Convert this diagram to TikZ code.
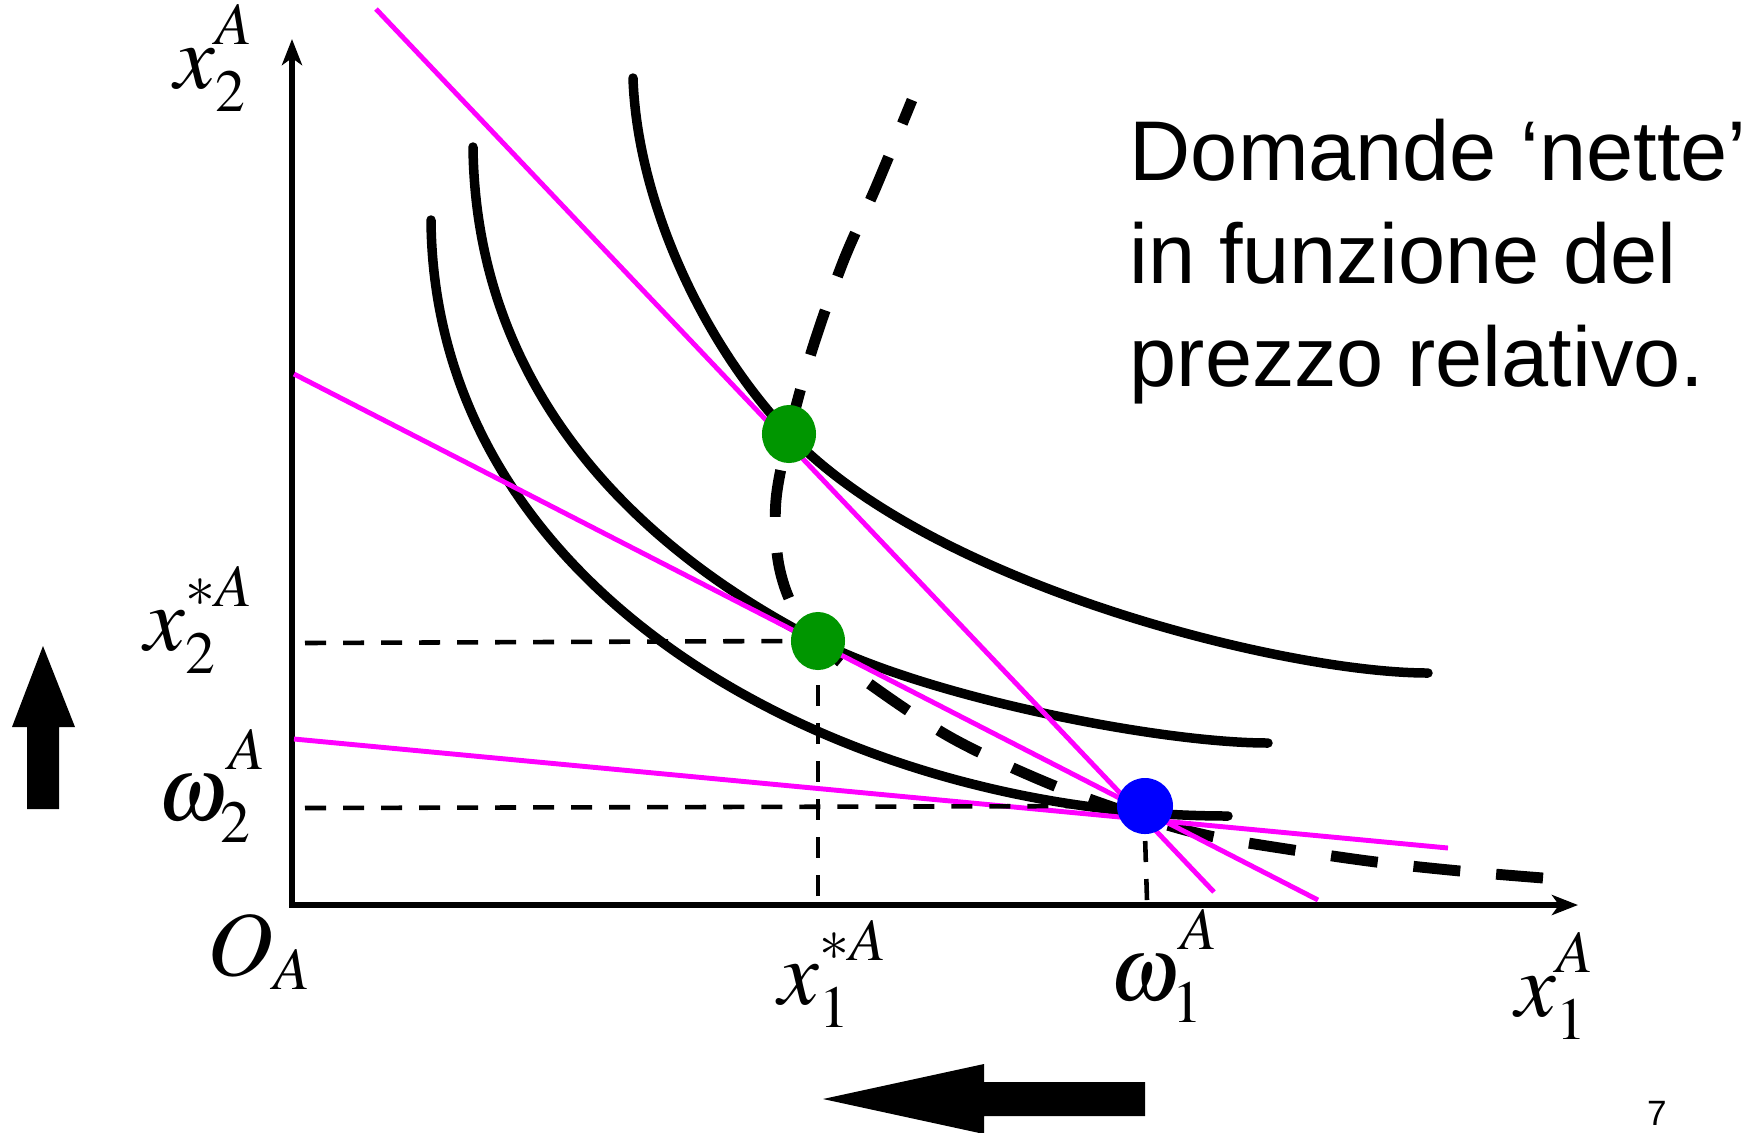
\documentclass[tikz,border=0pt]{standalone}
\usepackage{mathptmx}
\usepackage[no-math]{fontspec}
\setmainfont{Liberation Serif}
\newfontfamily\arialfont{Liberation Sans}
\definecolor{magline}{RGB}{255,0,255}
\definecolor{eqgreen}{RGB}{0,150,0}
\definecolor{endblue}{RGB}{0,0,255}
\usetikzlibrary{arrows.meta,positioning,shapes.geometric}
\DeclareMathSizes{26}{26}{17}{12}
\newcommand{\hisup}[2][3pt]{\raisebox{#1}{$\scriptstyle #2$}}

\begin{document}
\begin{tikzpicture}[x=0.01cm,y=-0.01cm,
  axis/.style={line width=1.6pt,line join=miter,
    {Stealth[length=0.26cm,width=0.2cm,inset=0.07cm]}-{Stealth[length=0.26cm,width=0.2cm,inset=0.07cm]}},
  indiff/.style={line width=2.7pt,line cap=round},
  offer/.style={line width=3.1pt,dash pattern=on 0.47cm off 0.36cm},
  budget/.style={magline,line width=1.4pt},
  guide/.style={line width=1.3pt,dash pattern=on 0.21cm off 0.17cm},
  lbl/.style={font=\fontsize{26}{26}\selectfont,inner sep=0pt},
  eqdot/.style={ellipse,fill=eqgreen,minimum width=0.54cm,minimum height=0.58cm,inner sep=0pt},
  enddot/.style={circle,fill=endblue,minimum size=0.56cm,inner sep=0pt}
]
  \useasboundingbox (0,0) rectangle (1762,1132);
  % axes
  \coordinate (O) at (292,905);
  \coordinate (ytop) at (292,39);
  \coordinate (xend) at (1578,905);
  \draw[axis] (ytop) -- (O) -- (xend);
  % indifference curves
  \draw[indiff] (431,220) .. controls (434,600) and (848,816) .. (1228,816);
  \draw[indiff] (473,147) .. controls (476,407) and (658,559) .. (818,641)
    .. controls (927,697) and (1159,743) .. (1268,743);
  \draw[indiff] (633,78) .. controls (637,198) and (700,340) .. (789,434)
    .. controls (932,585) and (1285,673) .. (1428,673);
  % offer curve
  \draw[offer] plot[smooth,tension=0.55] coordinates {(1543,878) (1460,871) (1376,862)
    (1293,850) (1210,836) (1145,818) (1050,784) (950,737) (860,677) (818,641)
    (792,605) (778,560) (776,500) (789,434) (812,350) (843,262) (876,187) (912,100)};
  % budget lines through the endowment
  \coordinate (bA1) at (376,9);    \coordinate (bA2) at (1214,892);
  \coordinate (bB1) at (294,374);  \coordinate (bB2) at (1318,900);
  \coordinate (bC1) at (294,739);  \coordinate (bC2) at (1448,848);
  \draw[budget] (bA1) -- (bA2);
  \draw[budget] (bB1) -- (bB2);
  \draw[budget] (bC1) -- (bC2);
  % points
  \node[eqdot] (G1) at (789,434) {};
  \node[eqdot] (G2) at (818,641) {};
  \node[enddot] (W) at (1145,806) {};
  % guides
  \coordinate (g2left) at (305,643);
  \coordinate (g2down) at (818,896);
  \coordinate (wleft) at (305,808);
  \coordinate (wdown) at (1147,900);
  \draw[guide] (g2left) -- (G2.west);
  \draw[guide] (g2down) -- (G2.south);
  \draw[guide] (wleft) -- (W.west);
  \draw[guide] (wdown) -- (W.south);
  % labels
  \node[lbl] (x2A) at (214,58) {$x_2^{\hisup{A}}$};
  \node[lbl] (x2sA) at (199,620) {$x_2^{\hisup{*A}}$};
  \node[lbl] (w2A) at (212,786) {$\omega_2^{\hisup[5pt]{A}}$};
  \node[lbl] (OA) at (260,952) {$O_A$};
  \node[lbl] (x1sA) at (833,974) {$x_1^{\hisup{*A}}$};
  \node[lbl] (w1A) at (1164,966) {$\omega_1^{\hisup[5pt]{A}}$};
  \node[lbl] (x1A) at (1555,986) {$x_1^{\hisup{A}}$};
  % caption text
  \node[font=\arialfont\fontsize{24.1}{29.3}\selectfont,align=left,anchor=north west,inner sep=0pt]
    (title) at (1129,118) {Domande ‘nette’\\in funzione del\\prezzo relativo.};
  \node[font=\arialfont\fontsize{10}{12}\selectfont,inner sep=0pt] (pg) at (1657,1113) {7};
  % direction arrows
  \fill (27,809) -- (27,727) -- (12,727) -- (43,646) -- (75,727) -- (59,727) -- (59,809) -- cycle;
  \fill (1145,1082) -- (984,1082) -- (984,1064) -- (823,1099) -- (984,1134) -- (984,1116) -- (1145,1116) -- cycle;
\end{tikzpicture}
\end{document}
